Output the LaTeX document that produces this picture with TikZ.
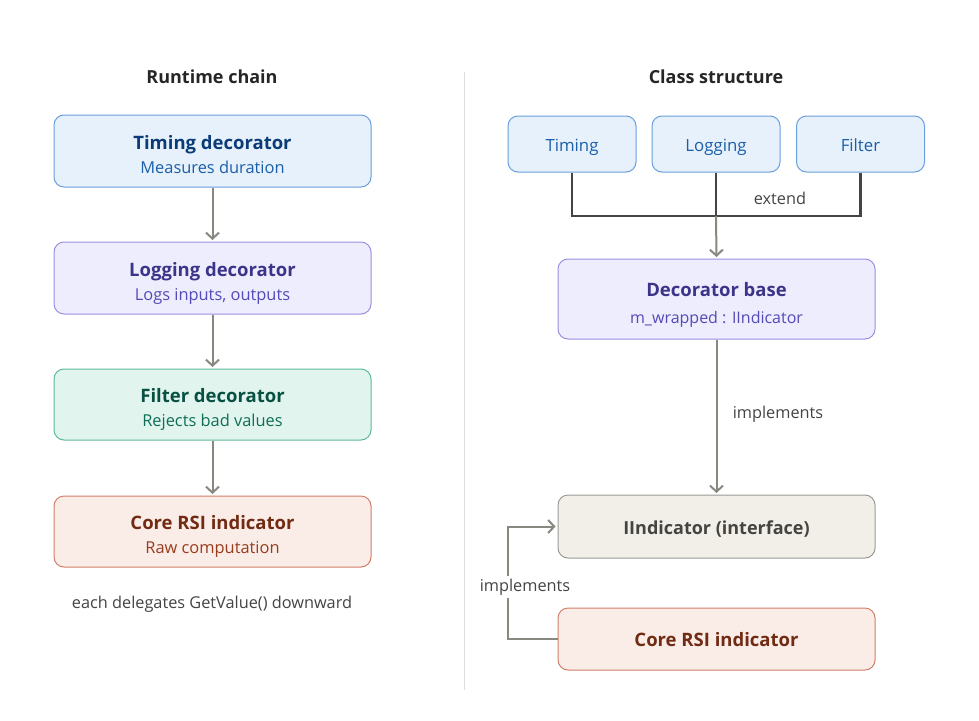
\documentclass[tikz,border=0pt]{standalone}
\usepackage{fontspec}
\setmainfont{Open Sans}
\usetikzlibrary{arrows.meta}
\definecolor{tfill}{HTML}{E6F1FB}\definecolor{tdraw}{HTML}{6A9FDB}\definecolor{ttit}{HTML}{0C3C78}\definecolor{tsub}{HTML}{1A5FA8}
\definecolor{lfill}{HTML}{EEEDFD}\definecolor{ldraw}{HTML}{9B8FE0}\definecolor{ltit}{HTML}{3C3489}\definecolor{lsub}{HTML}{534AB7}
\definecolor{ffill}{HTML}{E1F5EE}\definecolor{fdraw}{HTML}{5DBA99}\definecolor{ftit}{HTML}{085041}\definecolor{fsub}{HTML}{0F6E56}
\definecolor{cfill}{HTML}{FAECE7}\definecolor{cdraw}{HTML}{D0806A}\definecolor{ctit}{HTML}{712B13}\definecolor{csub}{HTML}{993C1D}
\definecolor{ifill}{HTML}{F1EFE8}\definecolor{idraw}{HTML}{9A9A94}\definecolor{itxt}{HTML}{444441}
\definecolor{arrgray}{HTML}{888780}\definecolor{darkline}{HTML}{444444}\definecolor{txt}{HTML}{444444}
\definecolor{divider}{HTML}{DDDDDD}
\begin{document}
\begin{tikzpicture}[x=1pt,y=-1pt,
  box/.style={rounded corners=10pt, line width=1pt, minimum width=317pt, inner sep=0pt},
  small/.style={rounded corners=10pt, line width=1pt, minimum width=128pt, minimum height=56pt, inner sep=0pt},
  tit/.style={anchor=base, inner sep=0pt, font=\fontsize{18.5}{22}\selectfont\bfseries},
  sub/.style={anchor=base, inner sep=0pt, font=\fontsize{16.4}{20}\selectfont},
  stxt/.style={anchor=base, inner sep=0pt, font=\fontsize{16.8}{20}\selectfont, text=tsub},
  arr/.style={draw=arrgray, line width=2pt, -{Straight Barb[length=6pt,width=13pt,line width=2pt]}},
  dk/.style={draw=darkline, line width=2.4pt},
  lbl/.style={anchor=base, font=\fontsize{16.3}{20}\selectfont, text=txt, inner sep=2pt},
  ttl/.style={font=\fontsize{18}{22}\selectfont\bfseries, text=black!85}]
\useasboundingbox[fill=white] (0,0) rectangle (979,720);
\node[ttl] (h1) at (212,77) {Runtime chain};
\node[ttl] (h2) at (716,77) {Class structure};
\draw[divider, line width=1pt] (464,72) -- (464,690);
% left column
\node[box, minimum height=72pt, fill=tfill, draw=tdraw] (lt) at (212.5,151) {};
\node[tit, text=ttit] (lt1) at (212.5,149.5) {Timing decorator};
\node[sub, text=tsub] (lt2) at (212.5,173.8) {Measures duration};
\node[box, minimum height=72pt, fill=lfill, draw=ldraw] (ll) at (212.5,278) {};
\node[tit, text=ltit] (ll1) at (212.5,276.5) {Logging decorator};
\node[sub, text=lsub] (ll2) at (212.5,300.8) {Logs inputs, outputs};
\node[box, minimum height=71pt, fill=ffill, draw=fdraw] (lf) at (212.5,404.5) {};
\node[tit, text=ftit] (lf1) at (212.5,402.5) {Filter decorator};
\node[sub, text=fsub] (lf2) at (212.5,426.8) {Rejects bad values};
\node[box, minimum height=71pt, fill=cfill, draw=cdraw] (lc) at (212.5,531.5) {};
\node[tit, text=ctit] (lc1) at (212.5,529.5) {Core RSI indicator};
\node[sub, text=csub] (lc2) at (212.5,553.8) {Raw computation};
\draw[arr, shorten >=1.5pt] (lt) -- (ll);
\draw[arr, shorten >=1.5pt] (ll) -- (lf);
\draw[arr, shorten >=1.5pt] (lf) -- (lc);
\node[lbl] (note) at (212,608) {each delegates GetValue() downward};
% right column
\node[small, fill=tfill, draw=tdraw] (rt) at (572,144) {};
\node[small, fill=tfill, draw=tdraw] (rl) at (716,144) {};
\node[small, fill=tfill, draw=tdraw] (rf) at (860.5,144) {};
\node[stxt] (rt1) at (572,151) {Timing};
\node[stxt] (rl1) at (716,151) {Logging};
\node[stxt] (rf1) at (860.5,151) {Filter};
\coordinate (j) at (716,216);
\draw[dk] (rt.south) |- (j) -| (rf.south);
\draw[dk] (rl.south) -- (j);
\node[lbl] (ext) at (780,204) {extend};
\node[box, minimum height=80pt, fill=lfill, draw=ldraw] (db) at (716.5,299) {};
\node[tit, text=ltit] (db1) at (716.5,296.5) {Decorator base};
\node[sub, text=lsub, font=\fontsize{16}{20}\selectfont] (db2) at (716.5,323.8) {m\_wrapped : IIndicator};
\draw[arr, shorten >=1.5pt] (j) -- (db.north);
\node[box, minimum height=63pt, fill=ifill, draw=idraw] (ii) at (716.5,526.5) {};
\node[tit, text=itxt, font=\fontsize{18}{22}\selectfont\bfseries] (ii1) at (716.5,534.5) {IIndicator (interface)};
\node[box, minimum height=62pt, fill=cfill, draw=cdraw] (rc) at (716.5,639) {};
\node[tit, text=ctit] (rc1) at (716.5,646.5) {Core RSI indicator};
\draw[arr, shorten >=1.5pt] (db.south) -- (ii.north);
\node[lbl] (imp1) at (778,418) {implements};
\draw[arr, shorten >=2pt] (rc.west) -- ++(-50,0) |- (ii.west);
\node[lbl, fill=white, inner sep=3pt] (imp2) at (525,591) {implements};
\end{tikzpicture}
\end{document}
